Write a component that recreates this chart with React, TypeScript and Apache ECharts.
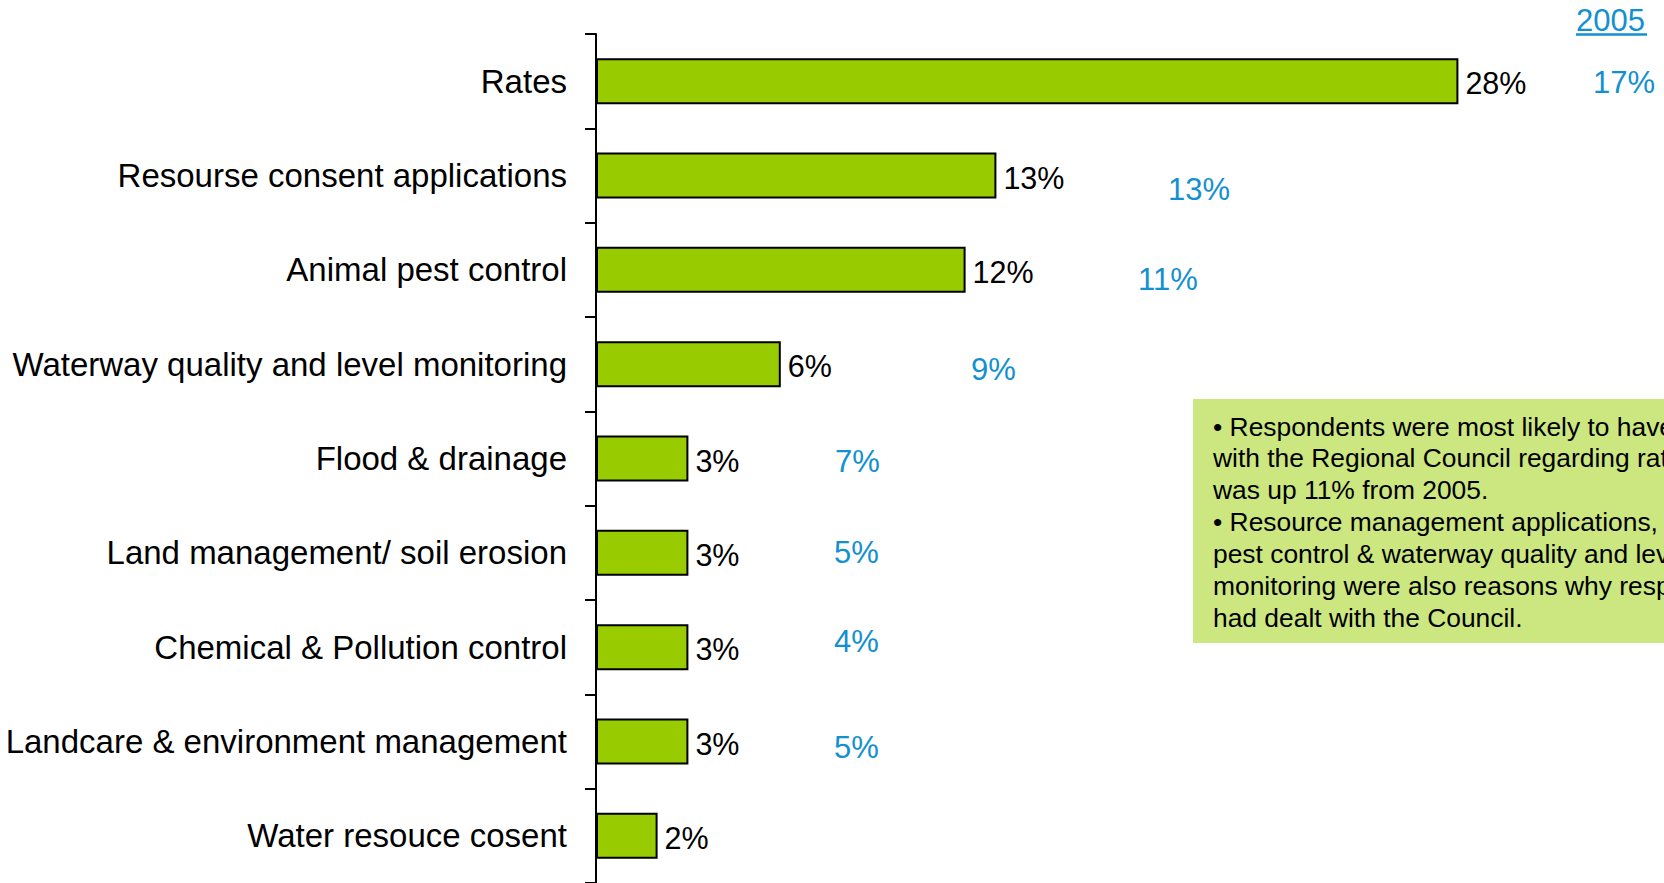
import React, { useEffect, useRef } from "react";
import * as echarts from "echarts";

const categories = [
  "Rates",
  "Resourse consent applications",
  "Animal pest control",
  "Waterway quality and level monitoring",
  "Flood & drainage",
  "Land management/ soil erosion",
  "Chemical & Pollution control",
  "Landcare & environment management",
  "Water resouce cosent",
];
const values2008 = [28, 13, 12, 6, 3, 3, 3, 3, 2];
const values2005: (number | null)[] = [17, 13, 11, 9, 7, 5, 4, 5, null];
const label2005 = "2005";
const noteLines = [
  "• Respondents were most likely to have dealt",
  "with the Regional Council regarding rates, this",
  "was up 11% from 2005.",
  "• Resource management applications, animal",
  "pest control & waterway quality and level",
  "monitoring were also reasons why respondents",
  "had dealt with the Council.",
];

const FONT = "'Liberation Sans', Arial, Helvetica, sans-serif";
const BLUE = "#1390d0";

// pixel layout of the hand-placed 2005 annotations (left x, middle y)
const pos2005: [number, number][] = [
  [1593, 82],
  [1168, 189],
  [1138, 279],
  [971, 369],
  [835, 461],
  [834, 552],
  [834, 641],
  [834, 747],
];

export default function App() {
  const ref = useRef<HTMLDivElement>(null);
  useEffect(() => {
    if (!ref.current) return;
    const chart = echarts.init(ref.current, null, { renderer: "svg" });
    const graphics: any[] = [];
    values2005.forEach((v, i) => {
      if (v == null || !pos2005[i]) return;
      graphics.push({
        type: "text",
        x: pos2005[i][0],
        y: pos2005[i][1],
        style: {
          text: v + "%",
          fill: BLUE,
          font: `31px ${FONT}`,
          verticalAlign: "middle",
          align: "left",
        },
      });
    });
    graphics.push({
      type: "text",
      x: 1576,
      y: 20,
      style: {
        text: label2005,
        fill: BLUE,
        font: `31px ${FONT}`,
        verticalAlign: "middle",
        align: "left",
      },
    });
    graphics.push({
      type: "line",
      shape: { x1: 1576, y1: 34.5, x2: 1647, y2: 34.5 },
      style: { stroke: BLUE, lineWidth: 2.5 },
    });
    graphics.push({
      type: "rect",
      shape: { x: 1193, y: 399, width: 520, height: 244 },
      style: { fill: "#cce680" },
      z: 1,
    });
    noteLines.forEach((t, i) => {
      graphics.push({
        type: "text",
        x: 1213,
        y: 426.5 + i * 31.9,
        z: 2,
        style: {
          text: t,
          fill: "#000",
          font: `26.4px ${FONT}`,
          verticalAlign: "middle",
          align: "left",
        },
      });
    });

    chart.setOption({
      animation: false,
      grid: { left: 596, top: 34, width: 924, height: 851.4, containLabel: false },
      xAxis: {
        type: "value",
        min: 0,
        max: 30,
        show: false,
      },
      yAxis: {
        type: "category",
        inverse: true,
        data: categories,
        axisLine: { show: true, lineStyle: { color: "#000", width: 2 } },
        axisTick: { show: true, length: 11, lineStyle: { color: "#000", width: 2 } },
        axisLabel: {
          color: "#000",
          fontSize: 33,
          fontFamily: FONT,
          margin: 29,
        },
        splitLine: { show: false },
      },
      series: [
        {
          type: "bar",
          data: values2008,
          barWidth: 46,
          itemStyle: { color: "#99cc00", borderColor: "#000", borderWidth: 2 },
          label: {
            show: true,
            position: "right",
            distance: 7,
            offset: [0, 2],
            formatter: "{c}%",
            color: "#000",
            fontSize: 30.5,
            fontFamily: FONT,
          },
        },
      ],
      graphic: graphics,
    });
    return () => chart.dispose();
  }, []);
  return (
    <div
      ref={ref}
      style={{ position: "absolute", left: 0, top: 0, width: 1664, height: 883, background: "#fff" }}
    />
  );
}
